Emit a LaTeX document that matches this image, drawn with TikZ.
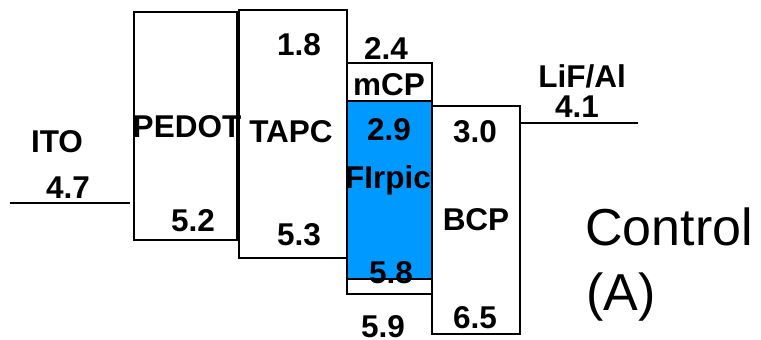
\documentclass[tikz,border=0pt]{standalone}
\usepackage{fontspec}
\setmainfont{Liberation Sans}
\definecolor{layerblue}{RGB}{0,153,255}
\begin{document}
\begin{tikzpicture}[x=1pt,y=-1pt,
  box/.style={draw=black,line width=1.6pt,fill=white,inner sep=0pt,anchor=north west},
  lbl/.style={font=\fontsize{31.5}{36}\selectfont\bfseries,anchor=base,inner sep=0pt},
  big/.style={font=\fontsize{52}{58}\selectfont,anchor=base west,inner sep=0pt},
  level/.style={line width=1.6pt}]
\useasboundingbox (0,0) rectangle (761,340);
% layers
\node[box,minimum width=103pt,minimum height=228pt] (pedot) at (133,11) {};
\node[box,minimum width=108pt,minimum height=248pt] (tapc) at (238,9) {};
\node[box,minimum width=85pt,minimum height=231pt] (mcp) at (346,62) {};
\node[box,fill=layerblue,minimum width=85pt,minimum height=178pt] (firpic) at (346,100) {};
\node[box,minimum width=88pt,minimum height=228pt] (bcp) at (431,105) {};
% electrodes
\coordinate (itoL) at (10,203);
\coordinate (itoR) at (130,203);
\draw[level] (itoL) -- (itoR);
\coordinate (lifL) at (519,123);
\coordinate (lifR) at (638,123);
\draw[line width=1.3pt] (lifL) -- (lifR);
% labels
\node[lbl] (tito) at (57,152) {ITO};
\node[lbl] (v47) at (68,198) {4.7};
\node[lbl] (tpedot) at (187,137) {PEDOT};
\node[lbl] (v52) at (193,231) {5.2};
\node[lbl] (v18) at (299,55) {1.8};
\node[lbl] (ttapc) at (291,142) {TAPC};
\node[lbl] (v53) at (299,245) {5.3};
\node[lbl] (v24) at (386,59) {2.4};
\node[lbl] (tmcp) at (389,95) {mCP};
\node[lbl] (v29) at (389,140) {2.9};
\node[lbl] (tfirpic) at (388,188) {FIrpic};
\node[lbl] (v58) at (391,283) {5.8};
\node[lbl] (v59) at (383,337) {5.9};
\node[lbl] (v30) at (475,142) {3.0};
\node[lbl] (tbcp) at (476,230) {BCP};
\node[lbl] (v65) at (475,328) {6.5};
\node[lbl] (tlif) at (582,87) {LiF/Al};
\node[lbl] (v41) at (577,117) {4.1};
\node[big] (tcontrol) at (585,245) {Control};
\node[big] (ta) at (586,310) {(A)};
\end{tikzpicture}
\end{document}
